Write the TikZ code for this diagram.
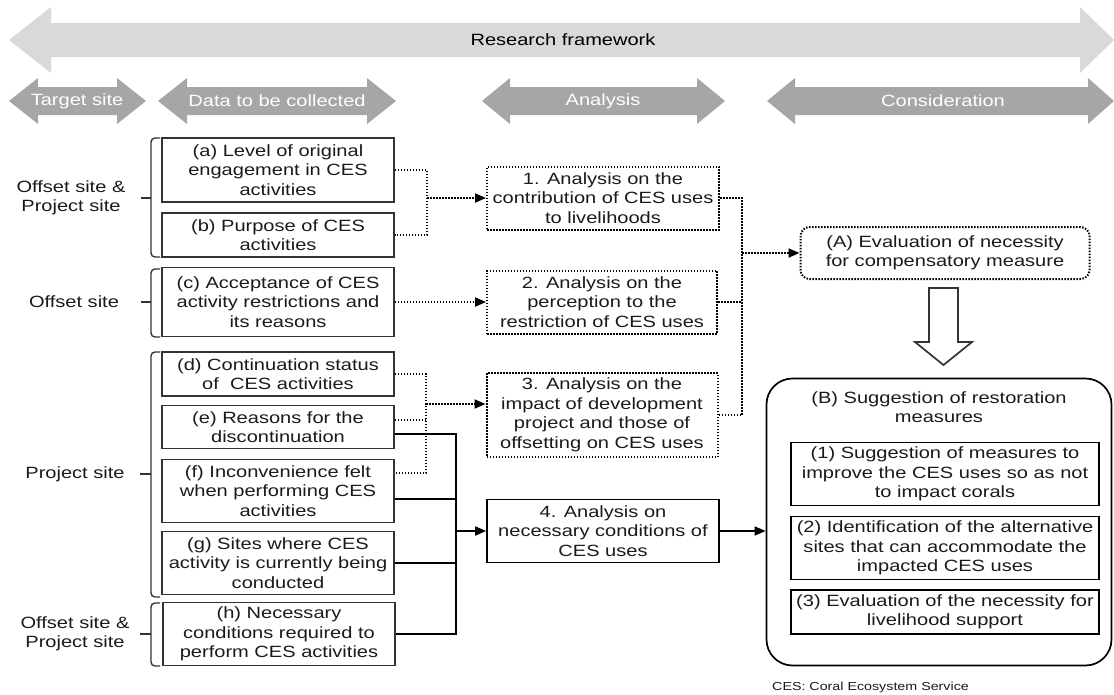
\documentclass[tikz,border=0pt]{standalone}
\usepackage{fontspec}
\setmainfont{Liberation Sans}[FakeStretch=1.23]
\usetikzlibrary{arrows.meta,calc}
\definecolor{bigarr}{HTML}{D9D9D9}
\definecolor{hdrarr}{HTML}{A6A6A6}
\definecolor{boxln}{HTML}{333333}
\definecolor{txt}{HTML}{1A1A1A}
\newcommand\harrow[4]{\fill[hdrarr] (#1,101) -- (#2,78) -- (#2,87) -- (#3,87) -- (#3,78) -- (#4,101) -- (#3,124) -- (#3,115) -- (#2,115) -- (#2,124) -- cycle;}
\begin{document}
\begin{tikzpicture}[x=1pt,y=-1pt,
  font=\fontsize{16.3}{19.5}\selectfont,
  every node/.style={text=txt},
  htext/.style={text=white, inner sep=0pt},
  lbl/.style={align=center, inner sep=0pt},
  lbox/.style={draw=boxln, line width=1.7pt, align=center, inner sep=1pt, minimum width=232},
  dbox/.style={draw=black, line width=2pt, dash pattern=on 1.5pt off 1.5pt, align=center, inner sep=1pt},
  dline/.style={line width=2pt, dash pattern=on 1.5pt off 1.5pt},
  sline/.style={line width=1.7pt},
  arr/.style={-{Triangle[length=11pt,width=9pt]}},
  brk/.style={line width=1.4pt, draw=boxln, rounded corners=4pt}
]
\useasboundingbox (0,0) rectangle (1114,694);

% header arrows
\fill[bigarr] (9,40) -- (51,7) -- (51,23) -- (1080,23) -- (1080,7) -- (1114,40) -- (1080,73) -- (1080,57) -- (51,57) -- (51,73) -- cycle;
\node[inner sep=0pt, text=black] (rf) at (563,40) {Research framework};

\harrow{9}{38}{117}{146}
\harrow{158}{187}{367}{396}
\harrow{482}{510}{697}{725}
\harrow{767}{795}{1088}{1114}
\node[htext] (ts) at (77,101) {Target site};
\node[htext] (dc) at (277,101) {Data to be collected};
\node[htext] (an) at (603,101) {Analysis};
\node[htext] (co) at (943,101) {Consideration};

% left labels and brackets
\node[lbl] (l1) at (71,198) {Offset site \&\\Project site};
\node[lbl] (l2) at (74,302) {Offset site};
\node[lbl] (l3) at (75,474) {Project site};
\node[lbl] (l4) at (75,634) {Offset site \&\\Project site};
\draw[brk] (160,138) -- (151,138) -- (151,257) -- (160,257);
\draw[brk] (151,198) -- (141,198);
\draw[brk] (160,269) -- (151,269) -- (151,337) -- (160,337);
\draw[brk] (151,302) -- (141,302);
\draw[brk] (160,352) -- (151,352) -- (151,597) -- (160,597);
\draw[brk] (151,474) -- (140,474);
\draw[brk] (160,603) -- (151,603) -- (151,666) -- (160,666);
\draw[brk] (151,634) -- (140,634);

% data boxes
\node[lbox, minimum height=64] (a) at (278,170) {(a) Level of original\\engagement in CES\\activities};
\node[lbox, minimum height=44] (b) at (278,235) {(b) Purpose of CES\\activities};
\node[lbox, minimum height=69] (c) at (278,302) {(c) Acceptance of CES\\activity restrictions and\\its reasons};
\node[lbox, minimum height=44] (d) at (278,374) {(d) Continuation status\\of~~CES activities};
\node[lbox, minimum height=43] (e) at (278,427) {(e) Reasons for the\\discontinuation};
\node[lbox, minimum height=63] (f) at (278,491) {(f) Inconvenience felt\\when performing CES\\activities};
\node[lbox, minimum height=63] (g) at (278,563) {(g) Sites where CES\\activity is currently being\\conducted};
\node[lbox, minimum height=63] (h) at (279,634) {(h) Necessary\\conditions required to\\perform CES activities};

% analysis boxes
\node[dbox, minimum width=232, minimum height=63] (n1) at (603,198) {1. Analysis on the\\contribution of CES uses\\to livelihoods};
\node[dbox, minimum width=230, minimum height=63] (n2) at (602,302) {2. Analysis on the\\perception to the\\restriction of CES uses};
\node[dbox, minimum width=231, minimum height=84] (n3) at (602,415) {3. Analysis on the\\impact of development\\project and those of\\offsetting on CES uses};
\node[lbox, draw=black, minimum width=232, minimum height=63] (n4) at (603,531) {4. Analysis on\\necessary conditions of\\CES uses};

% consideration
\node[dbox, rounded corners=9pt, minimum width=289, minimum height=52] (A) at (945,253) {(A) Evaluation of necessity\\for compensatory measure};
\node[draw=black, line width=1.7pt, rounded corners=26pt, minimum width=345, minimum height=287] (B) at (939,522) {};
\node[lbl] (Bt) at (939,407) {(B) Suggestion of restoration\\measures};
\node[lbox, draw=black, minimum width=308, minimum height=63] (m1) at (945,474) {(1) Suggestion of measures to\\improve the CES uses so as not\\to impact corals};
\node[lbox, draw=black, minimum width=308, minimum height=63] (m2) at (945,548) {(2) Identification of the alternative\\sites that can accommodate the\\impacted CES uses};
\node[lbox, draw=black, minimum width=308, minimum height=44] (m3) at (945,612) {(3) Evaluation of the necessity for\\livelihood support};
\node[anchor=west, inner sep=0pt, font=\fontsize{11.6}{14}\selectfont] (fn) at (772,687) {CES: Coral Ecosystem Service};

% hollow arrow from A to B
\draw[line width=1.7pt, draw=boxln, fill=white] (929,288) -- (958,288) -- (958,342) -- (972,342) -- (943.5,365) -- (915,342) -- (929,342) -- cycle;

% dotted connectors
\coordinate (j1) at (427,198);
\draw[dline] (a.east) -| (j1) |- (b.east);
\draw[dline,arr] (j1) -- (j1 -| n1.west);
\draw[dline,arr] (c.east) -- (c.east -| n2.west);

\coordinate (j3) at (426,404);
\draw[dline] (d.east) -| (j3) |- ([yshift=18pt]f.east);
\draw[dline] ([yshift=7pt]e.east) -- ([yshift=7pt]e.east -| j3);
\draw[dline,arr] (j3) -- (j3 -| n3.west);

\coordinate (j2) at (742,253);
\draw[dline] (n1.east) -| (j2) |- (n3.east);
\draw[dline] (n2.east) -- (n2.east -| j2);
\draw[dline,arr] (j2) -- (j2 -| A.west);

% solid connectors
\coordinate (j4) at (456,531);
\draw[sline] ([yshift=-7pt]e.east) -| (j4) |- (h.east);
\draw[sline] ([yshift=-8pt]f.east) -- ([yshift=-8pt]f.east -| j4);
\draw[sline] (g.east) -- (g.east -| j4);
\draw[sline,arr] (j4) -- (j4 -| n4.west);
\draw[sline,arr] (n4.east) -- (n4.east -| B.west);
\end{tikzpicture}
\end{document}
